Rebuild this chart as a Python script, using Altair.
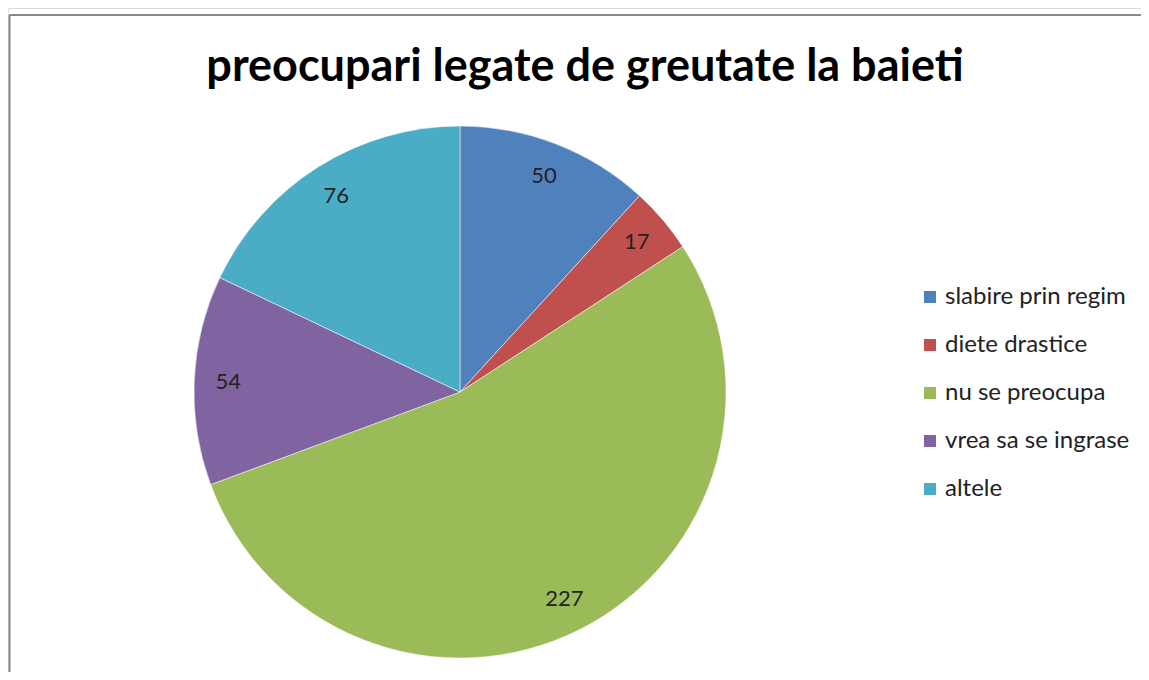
import altair as alt
import pandas as pd

categories = ["slabire prin regim", "diete drastice", "nu se preocupa", "vrea sa se ingrase", "altele"]
values = [50, 17, 227, 54, 76]
colors = ["#4F81BD", "#C0504D", "#9BBB59", "#8064A2", "#4BACC6"]
title_text = "preocupari legate de greutate la baieti"

df = pd.DataFrame({"cat": categories, "val": values, "ord": list(range(len(values)))})

W, H = 1133, 664
CX, CY = 452, 384
R = 266
FONT = "Lato"

color_scale = alt.Scale(domain=categories, range=colors)

base = alt.Chart(df).encode(
    theta=alt.Theta("val:Q", stack=True),
    order=alt.Order("ord:Q"),
)

arcs = base.mark_arc(radius=R, stroke="white", strokeWidth=0.5).encode(
    x=alt.value(CX), y=alt.value(CY),
    color=alt.Color(
        "cat:N", scale=color_scale,
        legend=alt.Legend(
            title=None, orient="none", legendX=910, legendY=277,
            symbolType="square", symbolSize=144, symbolStrokeWidth=0,
            labelFont=FONT, labelFontSize=24, labelColor="#222", labelLimit=0,
            rowPadding=24, symbolOffset=0, labelOffset=3,
        ),
    ),
)

labels = base.mark_text(radius=232, font=FONT, fontSize=22, color="#222").encode(
    x=alt.value(CX), y=alt.value(CY),
    text="val:Q",
)

title_df = pd.DataFrame({"t": [title_text]})
title = alt.Chart(title_df).mark_text(
    font=FONT, fontSize=45, fontWeight="bold", color="black", baseline="alphabetic", align="center"
).encode(x=alt.value(577), y=alt.value(73), text="t:N")

border_top = alt.Chart(title_df).mark_rule(color="#888", strokeWidth=2).encode(
    x=alt.value(1.5), x2=alt.value(W + 10), y=alt.value(7), y2=alt.value(7)
)
border_left = alt.Chart(title_df).mark_rule(color="#888", strokeWidth=2).encode(
    x=alt.value(1.5), x2=alt.value(1.5), y=alt.value(7), y2=alt.value(H + 10)
)

chart = alt.layer(border_top, border_left, arcs, labels, title).properties(
    width=W, height=H, padding=0, autosize=alt.AutoSizeParams(type="none")
).configure_view(stroke=None).configure(background="white")

chart.save("out.html", embed_options={"renderer": "svg", "actions": False})
